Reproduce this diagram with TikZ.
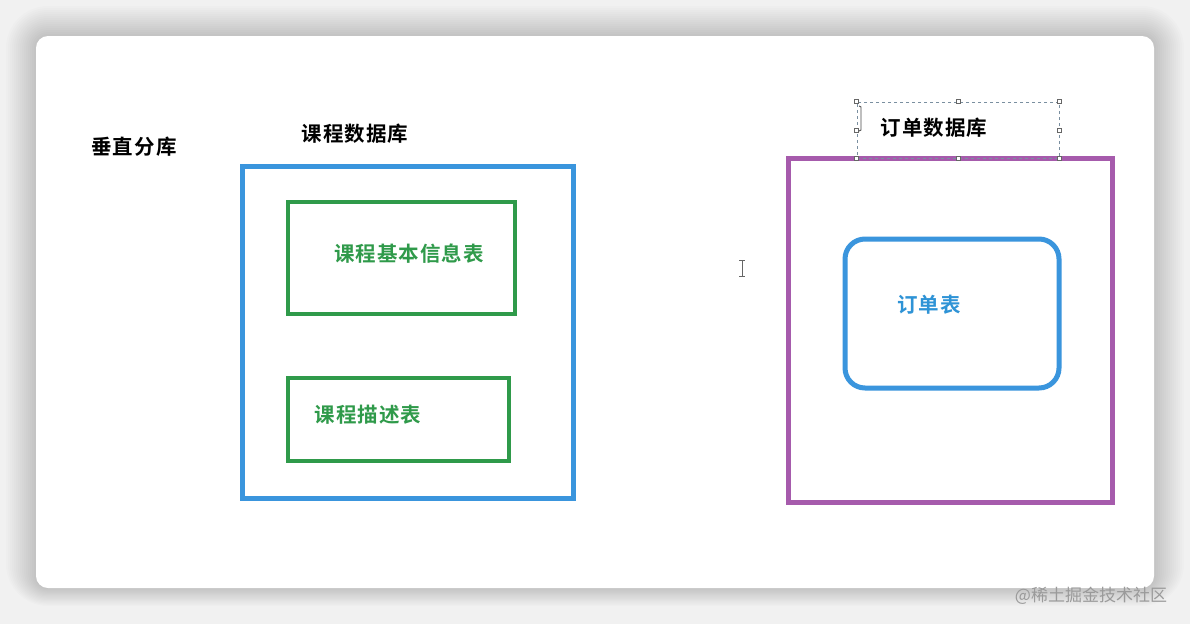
\documentclass[tikz,border=0pt]{standalone}
\usepackage{fontspec}
\setmainfont{Noto Sans CJK SC}
\newfontfamily\cjkb{Noto Sans CJK SC}[BoldFont={* Bold}, LetterSpace=5]
\usetikzlibrary{positioning}
\definecolor{bg}{HTML}{F1F1F1}
\definecolor{dbblue}{HTML}{3A95DD}
\definecolor{tblgreen}{HTML}{2F9A4A}
\definecolor{dbpurple}{HTML}{A65BAC}
\definecolor{txtblue}{HTML}{2E93D6}
\definecolor{wm}{HTML}{9A9A9A}
\definecolor{seldash}{HTML}{7A8FA0}
\tikzset{
  boxnode/.style={draw, inner sep=0pt, outer sep=0pt},
  lbl/.style={font=\cjkb\fontsize{20.5}{20.5}\selectfont\bfseries, inner sep=0pt},
  handle/.style={draw=black!60, fill=white, line width=0.6pt, minimum size=4pt, inner sep=0pt},
}
\begin{document}
\begin{tikzpicture}[x=1pt,y=-1pt]
\useasboundingbox (0,0) rectangle (1190,624);
\fill[bg] (0,0) rectangle (1190,624);
% soft shadow
\foreach \i in {2,4,...,30}{
  \fill[black, opacity=0.012, rounded corners=12pt+\i pt] (36-\i,36-\i) rectangle (1154+\i,588+\i*0.6);
}
\node[fill=white, rounded corners=12pt, inner sep=0pt, minimum width=1118pt, minimum height=552pt] (card) at (595,312) {};

% left database
\node[boxnode, draw=dbblue, line width=5pt, minimum width=331pt, minimum height=332pt] (kcdb) at (407.5,332) {};
\node[boxnode, draw=tblgreen, line width=4.5pt, minimum width=227pt, minimum height=112pt] (t1) at (401.5,258) {};
\node[boxnode, draw=tblgreen, line width=4.5pt, minimum width=221pt, minimum height=83pt] (t2) at (398.5,419.5) {};

\node[lbl] (title) at (134,147) {垂直分库};
\node[lbl] (kcdbl) at (355,134) {课程数据库};
\node[lbl, text=tblgreen] (t1l) at (409,254) {课程基本信息表};
\node[lbl, text=tblgreen] (t2l) at (368,415) {课程描述表};

% right database
\node[boxnode, draw=dbpurple, line width=5pt, minimum width=324pt, minimum height=344pt] (dddb) at (950,330) {};
\node[boxnode, draw=dbblue, line width=5pt, rounded corners=20pt, minimum width=214pt, minimum height=149pt] (ddt) at (952,313.5) {};
\node[lbl, text=txtblue] (ddtl) at (929,305) {订单表};

% selected text box
\node[draw=seldash, dashed, line width=0.6pt, inner sep=0pt, minimum width=202pt, minimum height=56pt] (sel) at (958,130) {};
\node[lbl] (dddbl) at (934,128) {订单数据库};
\foreach \p in {north west,north,north east,west,east,south west,south,south east}{
  \node[handle] at (sel.\p) {};
}
% text cursor in selection
\draw[black!70, line width=0.9pt] (859,106) -- (861,107) -- (861,130) -- (859,131);

% I-beam cursor
\coordinate (ibt) at (742,260);
\coordinate (ibb) at (742,276);
\draw[black!60, line width=1pt] (ibt) -- (ibb);
\draw[black!60, line width=0.8pt] (739,260) -- (745,260) (739,276) -- (745,276);

% watermark
\node[font=\fontsize{17}{17}\selectfont, text=wm, inner sep=0pt] (wmk) at (1091,596) {@稀土掘金技术社区};
\end{tikzpicture}
\end{document}
